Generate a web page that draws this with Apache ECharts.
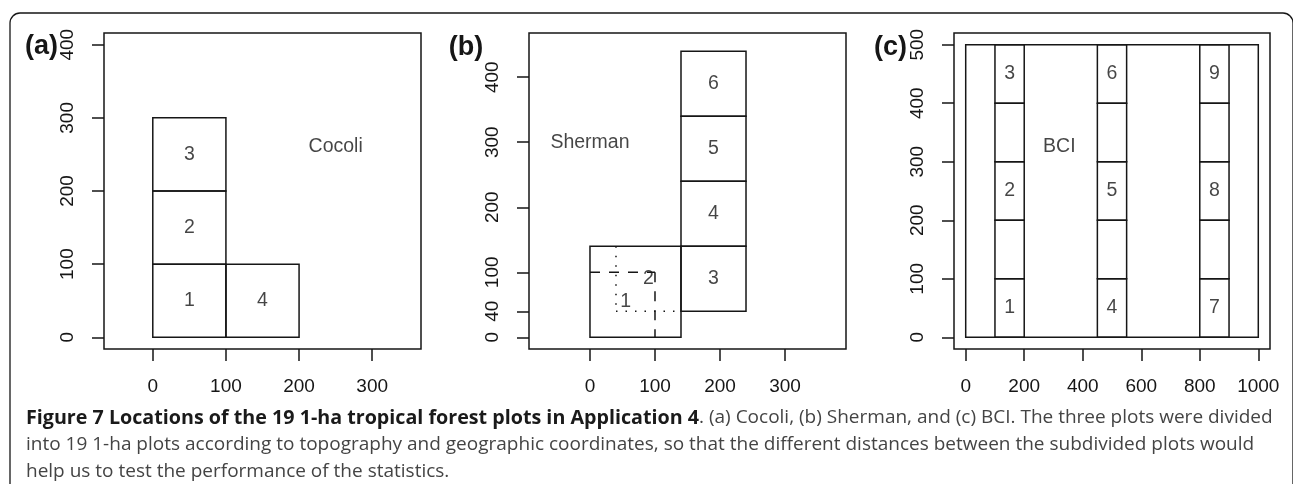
<!DOCTYPE html>
<html>
<head>
<meta charset="utf-8">
<script src="https://cdn.jsdelivr.net/npm/echarts@6/dist/echarts.min.js"></script>
<style>
html, body { margin: 0; padding: 0; background: #fff; }
#chart { width: 1293px; height: 484px; }
</style>
</head>
<body>
<div id="chart"></div>
<script>
// (a) Cocoli: plot cells [x0, y0, x1, y1]
var cocoliCells = [[0, 0, 100, 100], [0, 100, 100, 200], [0, 200, 100, 300], [100, 0, 200, 100]];
var cocoliLabels = [[50, 50, '1'], [50, 150, '2'], [50, 250, '3'], [150, 50, '4'], [250, 260, 'Cocoli']];
var cocoliXTicks = [0, 100, 200, 300];
var cocoliYTicks = [0, 100, 200, 300, 400];

// (b) Sherman
var shermanCells = [[0, 0, 140, 140], [140, 40, 240, 140], [140, 140, 240, 240], [140, 240, 240, 340], [140, 340, 240, 440]];
var shermanDashed = [[[0, 100], [100, 100]], [[100, 100], [100, 0]]];
var shermanDotted = [[[40, 140], [40, 40]], [[40, 40], [140, 40]]];
var shermanLabels = [[55, 55, '1'], [90, 90, '2'], [190, 90, '3'], [190, 190, '4'], [190, 290, '5'], [190, 390, '6'], [0, 300, 'Sherman']];
var shermanXTicks = [0, 100, 200, 300];
var shermanYTicks = [0, 40, 100, 200, 300, 400];

// (c) BCI
var bciCells = [[0, 0, 1000, 500]];
var bciColumns = [100, 450, 800];
var bciRows = [0, 100, 200, 300, 400];
var bciLabels = [[150, 50, '1'], [150, 250, '2'], [150, 450, '3'],
                 [500, 50, '4'], [500, 250, '5'], [500, 450, '6'],
                 [850, 50, '7'], [850, 250, '8'], [850, 450, '9'], [320, 325, 'BCI']];
var bciXTicks = [0, 200, 400, 600, 800, 1000];
var bciYTicks = [0, 100, 200, 300, 400, 500];

var panelTags = ['(a)', '(b)', '(c)'];
var captionBold = 'Figure 7 Locations of the 19 1-ha tropical forest plots in Application 4';
var captionLines = [
  '. (a) Cocoli, (b) Sherman, and (c) BCI. The three plots were divided',
  'into 19 1-ha plots according to topography and geographic coordinates, so that the different distances between the subdivided plots would',
  'help us to test the performance of the statistics.'
];

bciColumns.forEach(function (x0) {
  bciRows.forEach(function (y0) {
    bciCells.push([x0, y0, x0 + 100, y0 + 100]);
  });
});

var ink = '#161616';
var lw = 1.5;
var plotFont = '"Liberation Sans", Arial, Helvetica, sans-serif';

function cellItem (params, api) {
  var p0 = api.coord([api.value(0), api.value(1)]);
  var p1 = api.coord([api.value(2), api.value(3)]);
  return {
    type: 'rect',
    shape: { x: p0[0], y: p1[1], width: p1[0] - p0[0], height: p0[1] - p1[1] },
    style: { fill: 'none', stroke: ink, lineWidth: lw }
  };
}

function cellSeries (idx, cells) {
  return { type: 'custom', xAxisIndex: idx, yAxisIndex: idx, renderItem: cellItem, data: cells, silent: true };
}

function labelSeries (idx, labels) {
  return {
    type: 'scatter', xAxisIndex: idx, yAxisIndex: idx, symbolSize: 0, silent: true,
    data: labels.map(function (d) { return { value: [d[0], d[1]], name: d[2] }; }),
    label: { show: true, position: 'inside', formatter: '{b}', color: ink, fontSize: 19.5, fontFamily: plotFont }
  };
}

function segSeries (idx, segs, type) {
  return segs.map(function (s) {
    return {
      type: 'line', xAxisIndex: idx, yAxisIndex: idx, data: s, symbol: 'none', silent: true,
      lineStyle: { color: ink, width: lw, type: type }
    };
  });
}

function plainNum (v) { return String(v); }

function xAxisFor (idx, min, max, ticks) {
  return {
    type: 'value', gridIndex: idx, min: min, max: max, position: 'bottom',
    axisLine: { show: false, onZero: false },
    splitLine: { show: false },
    axisTick: { show: true, length: 12, customValues: ticks, lineStyle: { color: ink, width: lw } },
    axisLabel: { customValues: ticks, formatter: plainNum, margin: 28, fontSize: 19, color: ink, fontFamily: plotFont }
  };
}

function yAxisFor (idx, min, max, ticks) {
  return {
    type: 'value', gridIndex: idx, min: min, max: max, position: 'left',
    axisLine: { show: false, onZero: false },
    splitLine: { show: false },
    axisTick: { show: true, length: 12, customValues: ticks, lineStyle: { color: ink, width: lw } },
    axisLabel: { customValues: ticks, formatter: plainNum, rotate: 90, margin: 27, fontSize: 19, color: ink, fontFamily: plotFont }
  };
}

var gridBase = { show: true, borderColor: ink, borderWidth: lw, backgroundColor: 'transparent', top: 33, height: 316 };

var option = {
  animation: false,
  grid: [
    Object.assign({ left: 104, width: 317 }, gridBase),
    Object.assign({ left: 529, width: 317 }, gridBase),
    Object.assign({ left: 954, width: 316 }, gridBase)
  ],
  xAxis: [
    xAxisFor(0, -66.7, 366.7, cocoliXTicks),
    xAxisFor(1, -93.8, 393.8, shermanXTicks),
    xAxisFor(2, -40, 1040, bciXTicks)
  ],
  yAxis: [
    yAxisFor(0, -16, 416, cocoliYTicks),
    yAxisFor(1, -18, 468, shermanYTicks),
    yAxisFor(2, -20, 520, bciYTicks)
  ],
  series: [
    cellSeries(0, cocoliCells),
    labelSeries(0, cocoliLabels),
    cellSeries(1, shermanCells),
    labelSeries(1, shermanLabels),
    cellSeries(2, bciCells),
    labelSeries(2, bciLabels)
  ].concat(segSeries(1, shermanDashed, [10, 9]), segSeries(1, shermanDotted, [1.5, 8])),
  graphic: [
    { type: 'rect', z: -1, shape: { x: 10, y: 13, width: 1283, height: 600, r: 10 },
      style: { fill: 'none', stroke: ink, lineWidth: 1.3 } },
    { type: 'text', x: 41.5, y: 47, style: { text: panelTags[0], font: 'bold 27px ' + plotFont, fill: ink, align: 'center', verticalAlign: 'middle' } },
    { type: 'text', x: 466, y: 48, style: { text: panelTags[1], font: 'bold 27px ' + plotFont, fill: ink, align: 'center', verticalAlign: 'middle' } },
    { type: 'text', x: 890.5, y: 48, style: { text: panelTags[2], font: 'bold 27px ' + plotFont, fill: ink, align: 'center', verticalAlign: 'middle' } },
    { type: 'text', x: 26, y: 418, style: {
      text: '{b|' + captionBold + '}{n|' + captionLines[0] + '}',
      verticalAlign: 'middle',
      rich: {
        b: { fontFamily: 'Open Sans', fontSize: 19.7, fontWeight: 'bold', fill: '#1a1a1a' },
        n: { fontFamily: 'Open Sans', fontSize: 19, fill: '#444' }
      }
    } },
    { type: 'text', x: 26, y: 445, style: { text: captionLines[1], font: '19px "Open Sans"', fill: '#444', verticalAlign: 'middle' } },
    { type: 'text', x: 26, y: 472, style: { text: captionLines[2], font: '19px "Open Sans"', fill: '#444', verticalAlign: 'middle' } }
  ]
};

var chart = echarts.init(document.getElementById('chart'));
chart.setOption(option);
</script>
</body>
</html>
